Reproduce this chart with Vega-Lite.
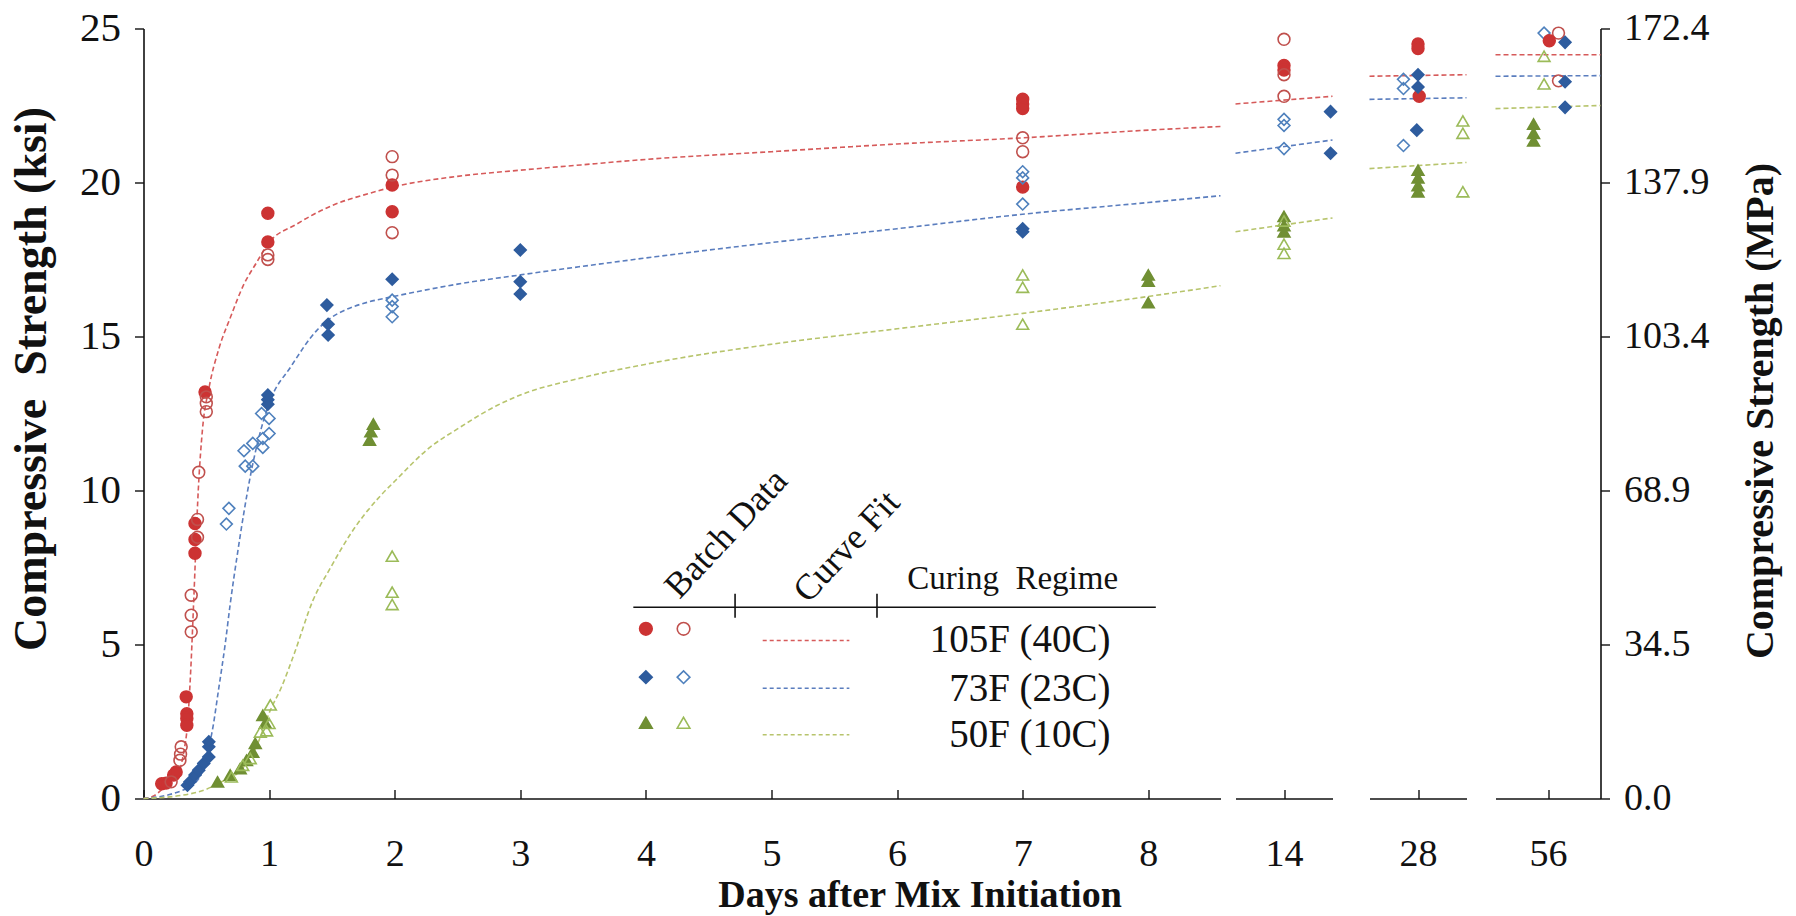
{
  "$schema": "https://vega.github.io/schema/vega-lite/v6.json",
  "background": "white",
  "padding": {"left": 7.5, "top": 7.5, "right": 5, "bottom": 0},
  "bounds": "flush",
  "spacing": 15,
  "config": {
    "view": {"stroke": null},
    "font": "Liberation Serif",
    "axis": {
      "labelFont": "Liberation Serif", "titleFont": "Liberation Serif",
      "labelColor": "#111", "titleColor": "#111", "domainColor": "#111", "tickColor": "#111",
      "grid": false, "domainWidth": 1.6, "tickWidth": 1.4,
      "labelFontSize": 38, "titleFontSize": 38, "titleFontWeight": "bold",
      "labelOverlap": false, "labelFlush": false
    },
    "style": {"guide-label": {"font": "Liberation Serif"}, "guide-title": {"font": "Liberation Serif"}}
  },
  "datasets": {
    "fit1": [
      {"d":0,"s":0,"c":"R"},{"d":0.08,"s":0.08,"c":"R"},{"d":0.16,"s":0.35,"c":"R"},{"d":0.22,"s":0.6,"c":"R"},{"d":0.29,"s":0.95,"c":"R"},{"d":0.32,"s":1.5,"c":"R"},{"d":0.35,"s":2.4,"c":"R"},{"d":0.38,"s":4.5,"c":"R"},{"d":0.4,"s":6.44,"c":"R"},{"d":0.436,"s":10.0,"c":"R"},{"d":0.47,"s":12.0,"c":"R"},{"d":0.52,"s":13.3,"c":"R"},{"d":0.6,"s":14.6,"c":"R"},{"d":0.69,"s":15.6,"c":"R"},{"d":0.8,"s":16.7,"c":"R"},{"d":0.9,"s":17.4,"c":"R"},{"d":0.99,"s":18.0,"c":"R"},{"d":1.22,"s":18.65,"c":"R"},{"d":1.5,"s":19.25,"c":"R"},{"d":1.8,"s":19.65,"c":"R"},{"d":1.98,"s":19.85,"c":"R"},{"d":2.5,"s":20.2,"c":"R"},{"d":3.0,"s":20.4,"c":"R"},{"d":3.48,"s":20.57,"c":"R"},{"d":4.0,"s":20.75,"c":"R"},{"d":5.0,"s":21.0,"c":"R"},{"d":6.0,"s":21.25,"c":"R"},{"d":7.0,"s":21.45,"c":"R"},{"d":8.0,"s":21.7,"c":"R"},{"d":8.575,"s":21.82,"c":"R"},
      {"d":0,"s":0,"c":"B"},{"d":0.2,"s":0.12,"c":"B"},{"d":0.3,"s":0.25,"c":"B"},{"d":0.41,"s":0.5,"c":"B"},{"d":0.47,"s":0.9,"c":"B"},{"d":0.52,"s":1.7,"c":"B"},{"d":0.543,"s":2.1,"c":"B"},{"d":0.6,"s":3.6,"c":"B"},{"d":0.65,"s":5.0,"c":"B"},{"d":0.69,"s":6.3,"c":"B"},{"d":0.75,"s":8.0,"c":"B"},{"d":0.8,"s":9.3,"c":"B"},{"d":0.86,"s":10.66,"c":"B"},{"d":0.93,"s":11.9,"c":"B"},{"d":1.01,"s":12.93,"c":"B"},{"d":1.17,"s":14.0,"c":"B"},{"d":1.38,"s":15.2,"c":"B"},{"d":1.49,"s":15.6,"c":"B"},{"d":1.6,"s":15.85,"c":"B"},{"d":1.8,"s":16.13,"c":"B"},{"d":1.98,"s":16.29,"c":"B"},{"d":2.5,"s":16.7,"c":"B"},{"d":3.0,"s":17.0,"c":"B"},{"d":3.48,"s":17.27,"c":"B"},{"d":4.0,"s":17.55,"c":"B"},{"d":5.0,"s":18.05,"c":"B"},{"d":6.0,"s":18.5,"c":"B"},{"d":7.0,"s":18.97,"c":"B"},{"d":8.0,"s":19.35,"c":"B"},{"d":8.575,"s":19.57,"c":"B"},
      {"d":0,"s":0,"c":"G"},{"d":0.3,"s":0.1,"c":"G"},{"d":0.5,"s":0.3,"c":"G"},{"d":0.6,"s":0.5,"c":"G"},{"d":0.77,"s":0.9,"c":"G"},{"d":0.9,"s":1.7,"c":"G"},{"d":1.01,"s":2.87,"c":"G"},{"d":1.1,"s":3.63,"c":"G"},{"d":1.2,"s":4.7,"c":"G"},{"d":1.35,"s":6.44,"c":"G"},{"d":1.49,"s":7.5,"c":"G"},{"d":1.65,"s":8.6,"c":"G"},{"d":1.88,"s":9.8,"c":"G"},{"d":2.0,"s":10.3,"c":"G"},{"d":2.28,"s":11.4,"c":"G"},{"d":2.5,"s":12.0,"c":"G"},{"d":2.81,"s":12.75,"c":"G"},{"d":3.0,"s":13.1,"c":"G"},{"d":3.48,"s":13.65,"c":"G"},{"d":4.0,"s":14.1,"c":"G"},{"d":5.0,"s":14.75,"c":"G"},{"d":6.0,"s":15.25,"c":"G"},{"d":7.0,"s":15.75,"c":"G"},{"d":8.0,"s":16.3,"c":"G"},{"d":8.575,"s":16.65,"c":"G"}
    ],
    "pts1": [
      {"d":0.145,"s":0.48,"k":"R"},{"d":0.18,"s":0.5,"k":"R"},{"d":0.24,"s":0.76,"k":"R"},{"d":0.26,"s":0.86,"k":"R"},{"d":0.34,"s":3.3,"k":"R"},{"d":0.345,"s":2.75,"k":"R"},{"d":0.345,"s":2.6,"k":"R"},{"d":0.345,"s":2.38,"k":"R"},{"d":0.41,"s":8.93,"k":"R"},{"d":0.41,"s":8.41,"k":"R"},{"d":0.41,"s":7.96,"k":"R"},{"d":0.49,"s":13.2,"k":"R"},{"d":0.99,"s":19.0,"k":"R"},{"d":0.99,"s":18.07,"k":"R"},{"d":1.98,"s":19.92,"k":"R"},{"d":1.98,"s":19.05,"k":"R"},{"d":7,"s":22.7,"k":"R"},{"d":7,"s":22.55,"k":"R"},{"d":7,"s":22.4,"k":"R"},{"d":7,"s":19.85,"k":"R"},
      {"d":0.22,"s":0.54,"k":"r"},{"d":0.3,"s":1.68,"k":"r"},{"d":0.295,"s":1.44,"k":"r"},{"d":0.29,"s":1.24,"k":"r"},{"d":0.38,"s":6.6,"k":"r"},{"d":0.38,"s":5.95,"k":"r"},{"d":0.38,"s":5.41,"k":"r"},{"d":0.43,"s":9.06,"k":"r"},{"d":0.43,"s":8.48,"k":"r"},{"d":0.44,"s":10.59,"k":"r"},{"d":0.5,"s":13.04,"k":"r"},{"d":0.5,"s":12.83,"k":"r"},{"d":0.5,"s":12.56,"k":"r"},{"d":0.99,"s":17.65,"k":"r"},{"d":0.99,"s":17.5,"k":"r"},{"d":1.98,"s":20.84,"k":"r"},{"d":1.98,"s":20.24,"k":"r"},{"d":1.98,"s":18.37,"k":"r"},{"d":7,"s":21.45,"k":"r"},{"d":7,"s":21.0,"k":"r"},
      {"d":0.35,"s":0.43,"k":"B"},{"d":0.37,"s":0.54,"k":"B"},{"d":0.41,"s":0.76,"k":"B"},{"d":0.44,"s":0.92,"k":"B"},{"d":0.48,"s":1.14,"k":"B"},{"d":0.52,"s":1.35,"k":"B"},{"d":0.52,"s":1.68,"k":"B"},{"d":0.52,"s":1.84,"k":"B"},{"d":0.99,"s":13.1,"k":"B"},{"d":0.99,"s":12.95,"k":"B"},{"d":0.99,"s":12.8,"k":"B"},{"d":1.46,"s":16.02,"k":"B"},{"d":1.47,"s":15.4,"k":"B"},{"d":1.47,"s":15.05,"k":"B"},{"d":1.98,"s":16.86,"k":"B"},{"d":3.0,"s":17.81,"k":"B"},{"d":3.0,"s":16.78,"k":"B"},{"d":3.0,"s":16.38,"k":"B"},{"d":7,"s":18.5,"k":"B"},{"d":7,"s":18.4,"k":"B"},
      {"d":0.66,"s":8.91,"k":"b"},{"d":0.68,"s":9.42,"k":"b"},{"d":0.8,"s":11.29,"k":"b"},{"d":0.81,"s":10.79,"k":"b"},{"d":0.87,"s":10.79,"k":"b"},{"d":0.87,"s":11.53,"k":"b"},{"d":0.94,"s":12.5,"k":"b"},{"d":0.95,"s":11.69,"k":"b"},{"d":0.95,"s":11.4,"k":"b"},{"d":1.0,"s":12.34,"k":"b"},{"d":1.0,"s":11.85,"k":"b"},{"d":1.98,"s":16.18,"k":"b"},{"d":1.98,"s":15.97,"k":"b"},{"d":1.98,"s":15.64,"k":"b"},{"d":7,"s":20.35,"k":"b"},{"d":7,"s":20.15,"k":"b"},{"d":7,"s":19.3,"k":"b"},
      {"d":0.59,"s":0.54,"k":"G"},{"d":0.69,"s":0.76,"k":"G"},{"d":0.77,"s":0.97,"k":"G"},{"d":0.82,"s":1.24,"k":"G"},{"d":0.87,"s":1.51,"k":"G"},{"d":0.89,"s":1.79,"k":"G"},{"d":0.97,"s":2.45,"k":"G"},{"d":0.95,"s":2.7,"k":"G"},{"d":1.83,"s":12.16,"k":"G"},{"d":1.81,"s":11.91,"k":"G"},{"d":1.8,"s":11.64,"k":"G"},{"d":8,"s":17.0,"k":"G"},{"d":8,"s":16.8,"k":"G"},{"d":8,"s":16.1,"k":"G"},
      {"d":0.7,"s":0.7,"k":"g"},{"d":0.79,"s":1.08,"k":"g"},{"d":0.85,"s":1.3,"k":"g"},{"d":0.93,"s":2.16,"k":"g"},{"d":0.98,"s":2.2,"k":"g"},{"d":1.0,"s":2.44,"k":"g"},{"d":1.01,"s":3.04,"k":"g"},{"d":1.98,"s":7.87,"k":"g"},{"d":1.98,"s":6.7,"k":"g"},{"d":1.98,"s":6.3,"k":"g"},{"d":7,"s":17.0,"k":"g"},{"d":7,"s":16.6,"k":"g"},{"d":7,"s":15.4,"k":"g"}
    ],
    "legpts": [
      {"d":4.0,"s":5.51,"k":"R"},{"d":4.3,"s":5.51,"k":"r"},
      {"d":4.0,"s":3.94,"k":"B"},{"d":4.3,"s":3.94,"k":"b"},
      {"d":4.0,"s":2.46,"k":"G"},{"d":4.3,"s":2.46,"k":"g"}
    ],
    "legline": [
      {"d":4.93,"s":5.13,"c":"R"},{"d":5.62,"s":5.13,"c":"R"},
      {"d":4.93,"s":3.58,"c":"B"},{"d":5.62,"s":3.58,"c":"B"},
      {"d":4.93,"s":2.07,"c":"G"},{"d":5.62,"s":2.07,"c":"G"}
    ],
    "legrule": [
      {"d":3.9,"d2":8.06,"s":6.21,"s2":6.21},
      {"d":4.71,"d2":4.71,"s":5.87,"s2":6.65},
      {"d":5.84,"d2":5.84,"s":5.87,"s2":6.65}
    ],
    "legrot": [
      {"d":4.64,"s":8.6,"t":"Batch Data"},
      {"d":5.6,"s":8.18,"t":"Curve Fit"}
    ],
    "leghead": [
      {"d":6.92,"s":7.12,"t":"Curing\u00a0 Regime"}
    ],
    "legreg": [
      {"d":7.7,"s":5.13,"t":"105F (40C)"},
      {"d":7.7,"s":3.57,"t":"73F (23C)"},
      {"d":7.7,"s":2.05,"t":"50F (10C)"}
    ],
    "fit2": [
      {"d":11.5,"s":22.55,"c":"R"},{"d":16.5,"s":22.8,"c":"R"},
      {"d":11.5,"s":20.95,"c":"B"},{"d":16.5,"s":21.38,"c":"B"},
      {"d":11.5,"s":18.4,"c":"G"},{"d":16.5,"s":18.85,"c":"G"}
    ],
    "pts2": [
      {"d":14,"s":23.8,"k":"R"},{"d":14,"s":23.65,"k":"R"},
      {"d":14,"s":24.65,"k":"r"},{"d":14,"s":23.5,"k":"r"},{"d":14,"s":22.8,"k":"r"},
      {"d":14,"s":22.05,"k":"b"},{"d":14,"s":21.85,"k":"b"},{"d":14,"s":21.1,"k":"b"},
      {"d":16.4,"s":22.3,"k":"B"},{"d":16.4,"s":20.95,"k":"B"},
      {"d":14,"s":18.9,"k":"G"},{"d":14,"s":18.6,"k":"G"},{"d":14,"s":18.4,"k":"G"},
      {"d":14,"s":18.75,"k":"g"},{"d":14,"s":18.0,"k":"g"},{"d":14,"s":17.7,"k":"g"}
    ],
    "fit3": [
      {"d":24,"s":23.45,"c":"R"},{"d":32,"s":23.5,"c":"R"},
      {"d":24,"s":22.7,"c":"B"},{"d":32,"s":22.75,"c":"B"},
      {"d":24,"s":20.45,"c":"G"},{"d":32,"s":20.65,"c":"G"}
    ],
    "pts3": [
      {"d":28,"s":24.5,"k":"R"},{"d":28,"s":24.35,"k":"R"},{"d":28.1,"s":22.8,"k":"R"},
      {"d":26.8,"s":23.35,"k":"b"},{"d":26.8,"s":23.05,"k":"b"},{"d":26.8,"s":21.2,"k":"b"},
      {"d":28,"s":23.5,"k":"B"},{"d":28,"s":23.1,"k":"B"},{"d":27.9,"s":21.7,"k":"B"},
      {"d":28,"s":20.4,"k":"G"},{"d":28,"s":20.15,"k":"G"},{"d":28,"s":19.9,"k":"G"},{"d":28,"s":19.7,"k":"G"},
      {"d":31.7,"s":22.0,"k":"g"},{"d":31.7,"s":21.6,"k":"g"},{"d":31.7,"s":19.7,"k":"g"}
    ],
    "fit4": [
      {"d":52,"s":24.15,"c":"R"},{"d":60,"s":24.15,"c":"R"},
      {"d":52,"s":23.45,"c":"B"},{"d":60,"s":23.47,"c":"B"},
      {"d":52,"s":22.4,"c":"G"},{"d":60,"s":22.5,"c":"G"}
    ],
    "pts4": [
      {"d":55.7,"s":24.85,"k":"b"},
      {"d":56.8,"s":24.85,"k":"r"},{"d":56.8,"s":23.3,"k":"r"},
      {"d":56.1,"s":24.6,"k":"R"},
      {"d":57.3,"s":24.55,"k":"B"},{"d":57.3,"s":23.27,"k":"B"},{"d":57.3,"s":22.44,"k":"B"},
      {"d":55.7,"s":24.1,"k":"g"},{"d":55.7,"s":23.2,"k":"g"},
      {"d":54.9,"s":21.9,"k":"G"},{"d":54.9,"s":21.6,"k":"G"},{"d":54.9,"s":21.35,"k":"G"}
    ]
  },
  "hconcat": [
    {
      "width": 1077, "height": 770,
      "encoding": {
        "x": {"field": "d", "type": "quantitative", "scale": {"domain": [0, 8.575], "nice": false, "zero": false},
              "axis": {"values": [0,1,2,3,4,5,6,7,8], "tickSize": -9, "labelPadding": 46, "labelFont": "Liberation Serif", "title": "Days after Mix Initiation", "titleFont": "Liberation Serif", "titleX": 776, "titleY": 108, "titleBaseline": "alphabetic", "titleAlign": "center"}},
        "y": {"field": "s", "type": "quantitative", "scale": {"domain": [0, 25], "nice": false},
              "axis": {"values": [0,5,10,15,20,25], "tickSize": 9, "labelPadding": 14, "labelFont": "Liberation Serif", "labelFontSize": 41, "title": "Compressive\u00a0 Strength (ksi)", "titleFont": "Liberation Serif", "titleFontSize": 46, "titleAngle": 270, "titleX": -112, "titleY": 350, "titleAlign": "center", "titleBaseline": "middle"}}
      },
      "layer": [
        {"data": {"name": "fit1"}, "mark": {"type": "line", "strokeDash": [5, 3], "strokeWidth": 1.6, "interpolate": "monotone"},
         "encoding": {"color": {"field": "c", "type": "nominal", "scale": {"domain": ["R","B","G"], "range": ["#D65A5A","#5A7DBE","#B7C46C"]}, "legend": null}}},
        {"data": {"name": "legline"}, "mark": {"type": "line", "strokeDash": [4, 3], "strokeWidth": 1.3},
         "encoding": {"color": {"field": "c", "type": "nominal", "scale": {"domain": ["R","B","G"], "range": ["#D65A5A","#5A7DBE","#B7C46C"]}, "legend": null}}},
        {"data": {"name": "legrule"}, "mark": {"type": "rule", "color": "#111", "strokeWidth": 1.6},
         "encoding": {"x2": {"field": "d2"}, "y2": {"field": "s2"}}},
        {"data": {"name": "pts1"}, "mark": {"type": "point", "size": 140, "strokeWidth": 1.6, "opacity": 1},
         "encoding": {
           "shape": {"field": "k", "type": "nominal", "scale": {"domain": ["R","r","B","b","G","g"], "range": ["circle","circle","diamond","diamond","triangle-up","triangle-up"]}, "legend": null},
           "fill": {"field": "k", "type": "nominal", "scale": {"domain": ["R","r","B","b","G","g"], "range": ["#CC3333","transparent","#2E5C9E","transparent","#708F33","transparent"]}, "legend": null},
           "stroke": {"field": "k", "type": "nominal", "scale": {"domain": ["R","r","B","b","G","g"], "range": ["#CC3333","#C0504D","#2E5C9E","#4F81BD","#708F33","#9BBB59"]}, "legend": null}}},
        {"data": {"name": "legpts"}, "mark": {"type": "point", "size": 160, "strokeWidth": 1.6, "opacity": 1},
         "encoding": {
           "shape": {"field": "k", "type": "nominal", "legend": null},
           "fill": {"field": "k", "type": "nominal", "legend": null},
           "stroke": {"field": "k", "type": "nominal", "legend": null}}},
        {"data": {"name": "legrot"}, "mark": {"type": "text", "angle": -47, "align": "center", "baseline": "middle", "fontSize": 36, "font": "Liberation Serif", "color": "#111"},
         "encoding": {"text": {"field": "t"}}},
        {"data": {"name": "leghead"}, "mark": {"type": "text", "align": "center", "baseline": "middle", "fontSize": 33, "font": "Liberation Serif", "color": "#111"},
         "encoding": {"text": {"field": "t"}}},
        {"data": {"name": "legreg"}, "mark": {"type": "text", "align": "right", "baseline": "middle", "fontSize": 39, "font": "Liberation Serif", "color": "#111"},
         "encoding": {"text": {"field": "t"}}}
      ]
    },
    {
      "bounds": "flush",
      "spacing": 37,
      "hconcat": [
        {
          "width": 97, "height": 770,
          "encoding": {
            "x": {"field": "d", "type": "quantitative", "scale": {"domain": [11.5, 16.5], "nice": false, "zero": false},
                  "axis": {"values": [14], "tickSize": -9, "labelPadding": 46, "labelFont": "Liberation Serif", "title": null}},
            "y": {"field": "s", "type": "quantitative", "scale": {"domain": [0, 25], "nice": false}, "axis": null}
          },
          "layer": [
            {"data": {"name": "fit2"}, "mark": {"type": "line", "strokeDash": [5, 3], "strokeWidth": 1.6},
             "encoding": {"color": {"field": "c", "type": "nominal", "scale": {"domain": ["R","B","G"], "range": ["#D65A5A","#5A7DBE","#B7C46C"]}, "legend": null}}},
            {"data": {"name": "pts2"}, "mark": {"type": "point", "size": 140, "strokeWidth": 1.6, "opacity": 1},
             "encoding": {
               "shape": {"field": "k", "type": "nominal", "scale": {"domain": ["R","r","B","b","G","g"], "range": ["circle","circle","diamond","diamond","triangle-up","triangle-up"]}, "legend": null},
               "fill": {"field": "k", "type": "nominal", "scale": {"domain": ["R","r","B","b","G","g"], "range": ["#CC3333","transparent","#2E5C9E","transparent","#708F33","transparent"]}, "legend": null},
               "stroke": {"field": "k", "type": "nominal", "scale": {"domain": ["R","r","B","b","G","g"], "range": ["#CC3333","#C0504D","#2E5C9E","#4F81BD","#708F33","#9BBB59"]}, "legend": null}}}
          ]
        },
        {
          "bounds": "flush",
          "spacing": 29,
          "hconcat": [
            {
              "width": 97, "height": 770,
              "encoding": {
                "x": {"field": "d", "type": "quantitative", "scale": {"domain": [24, 32], "nice": false, "zero": false},
                      "axis": {"values": [28], "tickSize": -9, "labelPadding": 46, "labelFont": "Liberation Serif", "title": null}},
                "y": {"field": "s", "type": "quantitative", "scale": {"domain": [0, 25], "nice": false}, "axis": null}
              },
              "layer": [
                {"data": {"name": "fit3"}, "mark": {"type": "line", "strokeDash": [5, 3], "strokeWidth": 1.6},
                 "encoding": {"color": {"field": "c", "type": "nominal", "scale": {"domain": ["R","B","G"], "range": ["#D65A5A","#5A7DBE","#B7C46C"]}, "legend": null}}},
                {"data": {"name": "pts3"}, "mark": {"type": "point", "size": 140, "strokeWidth": 1.6, "opacity": 1},
                 "encoding": {
                   "shape": {"field": "k", "type": "nominal", "scale": {"domain": ["R","r","B","b","G","g"], "range": ["circle","circle","diamond","diamond","triangle-up","triangle-up"]}, "legend": null},
                   "fill": {"field": "k", "type": "nominal", "scale": {"domain": ["R","r","B","b","G","g"], "range": ["#CC3333","transparent","#2E5C9E","transparent","#708F33","transparent"]}, "legend": null},
                   "stroke": {"field": "k", "type": "nominal", "scale": {"domain": ["R","r","B","b","G","g"], "range": ["#CC3333","#C0504D","#2E5C9E","#4F81BD","#708F33","#9BBB59"]}, "legend": null}}}
              ]
            },
            {
              "width": 105, "height": 770,
              "encoding": {
                "x": {"field": "d", "type": "quantitative", "scale": {"domain": [52, 60], "nice": false, "zero": false},
                      "axis": {"values": [56], "tickSize": -9, "labelPadding": 46, "labelFont": "Liberation Serif", "title": null}},
                "y": {"field": "s", "type": "quantitative", "scale": {"domain": [0, 25], "nice": false},
                      "axis": {"orient": "right", "values": [0,5,10,15,20,25], "labelExpr": "format(datum.value * 6.894757, '.1f')", "labelFont": "Liberation Serif", "tickSize": 9, "labelPadding": 14, "title": "Compressive Strength (MPa)", "titleFont": "Liberation Serif", "titleFontSize": 40, "titleAngle": 270, "titleX": 160, "titleY": 382, "titleAlign": "center", "titleBaseline": "middle"}}
              },
              "layer": [
                {"data": {"name": "fit4"}, "mark": {"type": "line", "strokeDash": [5, 3], "strokeWidth": 1.6},
                 "encoding": {"color": {"field": "c", "type": "nominal", "scale": {"domain": ["R","B","G"], "range": ["#D65A5A","#5A7DBE","#B7C46C"]}, "legend": null}}},
                {"data": {"name": "pts4"}, "mark": {"type": "point", "size": 140, "strokeWidth": 1.6, "opacity": 1},
                 "encoding": {
                   "shape": {"field": "k", "type": "nominal", "scale": {"domain": ["R","r","B","b","G","g"], "range": ["circle","circle","diamond","diamond","triangle-up","triangle-up"]}, "legend": null},
                   "fill": {"field": "k", "type": "nominal", "scale": {"domain": ["R","r","B","b","G","g"], "range": ["#CC3333","transparent","#2E5C9E","transparent","#708F33","transparent"]}, "legend": null},
                   "stroke": {"field": "k", "type": "nominal", "scale": {"domain": ["R","r","B","b","G","g"], "range": ["#CC3333","#C0504D","#2E5C9E","#4F81BD","#708F33","#9BBB59"]}, "legend": null}}}
              ]
            }
          ]
        }
      ]
    }
  ]
}
